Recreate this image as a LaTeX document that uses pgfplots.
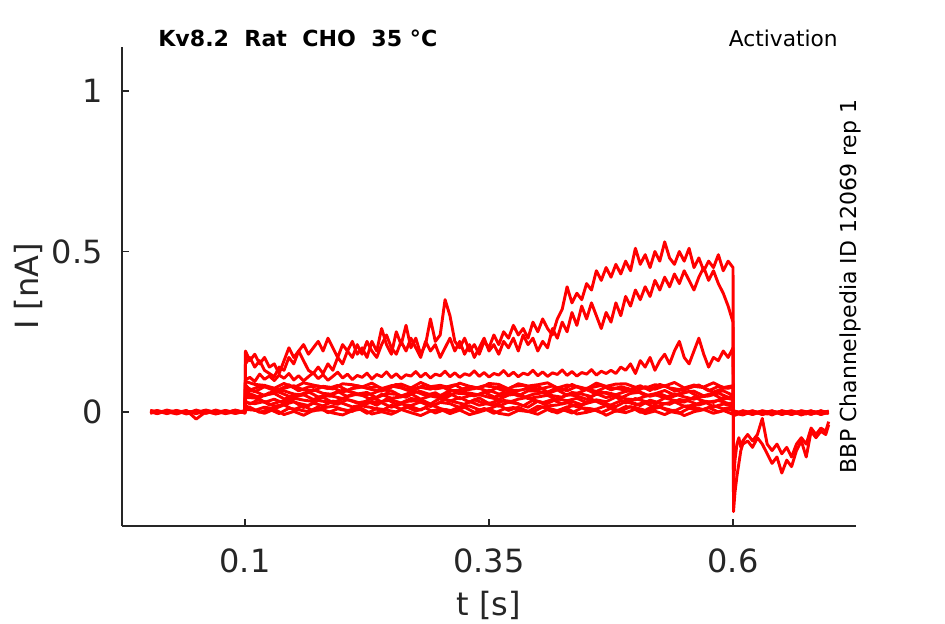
\documentclass[border=0pt]{standalone}
\usepackage{pgfplots}
\usepackage{pgfplotstable}
\pgfplotsset{compat=1.18}
\usepackage{fontspec}
\setmainfont{DejaVu Sans}
\definecolor{axgray}{HTML}{262626}

\pgfplotstableread{
t A B C
0.100 0 0 0
0.1005 0.19 0.15 0.100
0.105 0.16 0.17 0.108
0.110 0.18 0.14 0.095
0.115 0.15 0.16 0.118
0.120 0.17 0.13 0.102
0.125 0.14 0.12 0.112
0.130 0.15 0.11 0.098
0.135 0.12 0.14 0.115
0.140 0.16 0.13 0.105
0.145 0.20 0.17 0.120
0.150 0.17 0.15 0.100
0.155 0.19 0.19 0.113
0.160 0.21 0.16 0.097
0.165 0.18 0.13 0.110
0.170 0.20 0.12 0.122
0.175 0.22 0.14 0.104
0.180 0.19 0.12 0.116
0.185 0.23 0.15 0.099
0.190 0.20 0.13 0.111
0.195 0.17 0.17 0.124
0.200 0.21 0.15 0.106
0.205 0.19 0.19 0.118
0.210 0.22 0.17 0.101
0.215 0.18 0.21 0.114
0.220 0.20 0.18 0.108
0.225 0.17 0.22 0.121
0.230 0.22 0.19 0.103
0.235 0.19 0.17 0.117
0.240 0.26 0.21 0.110
0.245 0.21 0.24 0.125
0.250 0.18 0.20 0.107
0.255 0.25 0.18 0.119
0.260 0.21 0.22 0.104
0.265 0.27 0.19 0.116
0.270 0.20 0.23 0.112
0.275 0.23 0.20 0.126
0.280 0.18 0.17 0.109
0.285 0.21 0.22 0.121
0.290 0.29 0.19 0.106
0.295 0.22 0.21 0.118
0.300 0.24 0.17 0.113
0.305 0.35 0.20 0.127
0.310 0.30 0.23 0.110
0.315 0.22 0.19 0.122
0.320 0.20 0.22 0.108
0.325 0.23 0.18 0.119
0.330 0.19 0.21 0.114
0.335 0.21 0.17 0.128
0.340 0.18 0.20 0.111
0.345 0.22 0.23 0.123
0.350 0.20 0.19 0.109
0.355 0.24 0.21 0.120
0.360 0.21 0.18 0.115
0.365 0.25 0.22 0.129
0.370 0.23 0.20 0.112
0.375 0.27 0.23 0.124
0.380 0.24 0.19 0.110
0.385 0.26 0.24 0.121
0.390 0.23 0.21 0.116
0.395 0.28 0.23 0.130
0.400 0.25 0.19 0.113
0.405 0.29 0.22 0.125
0.410 0.26 0.20 0.111
0.415 0.24 0.26 0.122
0.420 0.29 0.23 0.117
0.425 0.32 0.28 0.131
0.430 0.39 0.25 0.114
0.435 0.34 0.31 0.126
0.440 0.37 0.27 0.112
0.445 0.35 0.33 0.123
0.450 0.40 0.29 0.118
0.455 0.38 0.34 0.132
0.460 0.44 0.30 0.115
0.465 0.41 0.26 0.127
0.470 0.45 0.31 0.120
0.475 0.42 0.28 0.13
0.480 0.46 0.34 0.12
0.485 0.43 0.30 0.14
0.490 0.47 0.36 0.13
0.495 0.44 0.33 0.15
0.500 0.51 0.38 0.12
0.505 0.46 0.35 0.16
0.510 0.49 0.39 0.14
0.515 0.45 0.36 0.17
0.520 0.50 0.41 0.13
0.525 0.47 0.38 0.16
0.530 0.53 0.42 0.18
0.535 0.48 0.39 0.15
0.540 0.46 0.43 0.19
0.545 0.50 0.40 0.22
0.550 0.47 0.44 0.17
0.555 0.51 0.41 0.15
0.560 0.45 0.38 0.19
0.565 0.48 0.42 0.23
0.570 0.44 0.45 0.18
0.575 0.47 0.41 0.14
0.580 0.45 0.44 0.17
0.585 0.49 0.40 0.16
0.590 0.44 0.37 0.19
0.595 0.47 0.33 0.17
0.600 0.45 0.28 0.20
0.6005 -0.31 -0.22 -0.004
0.602 -0.25 -0.15 0.002
0.604 -0.20 -0.10 -0.006
0.606 -0.16 -0.08 0.001
0.608 -0.12 -0.11 -0.003
0.610 -0.10 -0.09 0.003
0.615 -0.09 -0.07 -0.005
0.620 -0.11 -0.09 0.002
0.625 -0.08 -0.07 -0.004
0.630 -0.10 -0.02 0.001
0.635 -0.13 -0.10 -0.006
0.640 -0.16 -0.12 0.002
0.645 -0.14 -0.10 -0.003
0.650 -0.19 -0.13 0.003
0.655 -0.15 -0.11 -0.005
0.660 -0.17 -0.14 0.001
0.665 -0.12 -0.10 -0.004
0.670 -0.09 -0.08 0.002
0.675 -0.14 -0.10 -0.006
0.680 -0.06 -0.05 0.001
0.685 -0.08 -0.07 -0.003
0.690 -0.06 -0.05 0.003
0.695 -0.07 -0.06 -0.004
0.698 -0.04 -0.03 0.000
}\mainT

\pgfplotstableread{
t b1 b2 b3 b4 b5 b6 b7 b8
0.003 0.002 -0.003 0.004 -0.001 0.003 -0.004 0.001 0.005
0.01 -0.004 0.003 -0.002 0.005 -0.003 0.002 -0.005 0.001
0.02 0.003 -0.005 0.001 -0.003 0.006 -0.001 0.004 -0.002
0.03 -0.002 0.004 -0.006 0.002 -0.001 0.005 -0.003 0.003
0.04 0.005 -0.001 0.003 -0.004 0.002 -0.006 0.002 -0.004
0.05 -0.022 0.002 -0.003 0.004 -0.005 0.003 -0.001 0.006
0.06 0.001 -0.004 0.005 -0.002 0.004 -0.002 0.006 -0.003
0.07 -0.005 0.006 -0.001 0.003 -0.006 0.004 -0.002 0.002
0.08 0.004 -0.002 0.002 -0.005 0.001 -0.003 0.005 -0.001
0.09 -0.001 0.005 -0.004 0.001 -0.002 0.006 -0.004 0.004
0.1 0.003 -0.003 0.002 -0.002 0.004 -0.001 0.002 -0.003
0.1005 0.008 0.020 0.030 0.045 0.055 0.068 0.080 0.095
0.11 0.006 0.005 0.026 0.044 0.045 0.065 0.063 0.086
0.12 -0.004 0.015 0.033 0.030 0.053 0.051 0.079 0.083
0.13 0.009 0.010 0.018 0.040 0.058 0.061 0.067 0.074
0.14 -0.008 0.022 0.023 0.027 0.041 0.066 0.074 0.089
0.15 0.002 0.007 0.032 0.043 0.046 0.056 0.082 0.076
0.16 -0.010 0.020 0.014 0.037 0.054 0.053 0.069 0.091
0.17 0.005 0.003 0.028 0.033 0.039 0.070 0.066 0.084
0.18 0.007 0.013 0.019 0.046 0.051 0.058 0.080 0.077
0.19 -0.003 0.018 0.034 0.029 0.049 0.055 0.076 0.072
0.20 -0.009 0.008 0.027 0.041 0.042 0.068 0.062 0.088
0.21 0.004 0.002 0.016 0.035 0.056 0.062 0.073 0.085
0.22 0.010 0.019 0.022 0.026 0.052 0.052 0.078 0.078
0.23 -0.006 0.014 0.031 0.045 0.038 0.057 0.070 0.090
0.24 0.001 0.004 0.029 0.032 0.055 0.069 0.065 0.073
0.25 -0.007 0.021 0.015 0.038 0.043 0.066 0.081 0.082
0.26 0.008 0.009 0.025 0.028 0.047 0.050 0.075 0.087
0.27 -0.002 0.017 0.020 0.042 0.057 0.061 0.064 0.075
0.28 -0.011 0.006 0.032 0.039 0.040 0.064 0.077 0.092
0.29 0.003 0.023 0.017 0.025 0.050 0.054 0.071 0.079
0.30 0.009 0.011 0.030 0.043 0.044 0.051 0.082 0.083
0.31 -0.005 0.003 0.026 0.034 0.058 0.067 0.066 0.076
0.32 0.006 0.016 0.014 0.045 0.041 0.063 0.068 0.090
0.33 -0.008 0.019 0.033 0.031 0.051 0.059 0.080 0.080
0.34 0.000 0.007 0.021 0.044 0.054 0.053 0.074 0.073
0.35 0.010 0.010 0.028 0.026 0.046 0.068 0.063 0.089
0.36 -0.004 0.022 0.018 0.037 0.039 0.056 0.079 0.086
0.37 -0.009 0.005 0.031 0.030 0.053 0.062 0.069 0.072
0.38 0.005 0.015 0.025 0.040 0.056 0.050 0.067 0.088
0.39 0.002 0.001 0.015 0.046 0.042 0.066 0.073 0.081
0.40 -0.007 0.018 0.034 0.033 0.047 0.065 0.081 0.085
0.41 0.008 0.013 0.019 0.027 0.052 0.057 0.062 0.091
0.42 -0.003 0.004 0.022 0.041 0.038 0.069 0.076 0.075
0.43 0.011 0.016 0.030 0.035 0.055 0.052 0.066 0.084
0.44 -0.006 0.021 0.016 0.043 0.050 0.058 0.080 0.078
0.45 -0.001 0.006 0.027 0.029 0.040 0.070 0.072 0.072
0.46 0.007 0.009 0.035 0.038 0.057 0.055 0.064 0.090
0.47 -0.010 0.020 0.020 0.032 0.045 0.061 0.078 0.080
0.48 0.004 0.002 0.017 0.047 0.053 0.054 0.074 0.087
0.49 -0.002 0.017 0.033 0.028 0.041 0.064 0.068 0.088
0.50 0.009 0.014 0.023 0.042 0.038 0.068 0.063 0.077
0.51 -0.005 0.005 0.029 0.033 0.049 0.051 0.079 0.074
0.52 0.003 0.022 0.014 0.027 0.054 0.057 0.071 0.085
0.53 -0.008 0.011 0.026 0.044 0.044 0.067 0.082 0.081
0.54 0.006 0.003 0.032 0.036 0.057 0.053 0.066 0.092
0.55 -0.011 0.018 0.018 0.031 0.047 0.062 0.069 0.075
0.56 0.001 0.015 0.021 0.046 0.040 0.065 0.080 0.084
0.57 0.008 0.007 0.034 0.034 0.051 0.050 0.076 0.078
0.58 -0.004 0.020 0.016 0.030 0.055 0.060 0.062 0.091
0.59 0.005 0.010 0.025 0.045 0.039 0.066 0.074 0.076
0.60 -0.007 0.016 0.020 0.039 0.050 0.052 0.077 0.082
0.6005 -0.006 0.002 -0.010 0.004 -0.003 -0.012 0.001 -0.008
0.61 0.002 -0.007 0.003 -0.004 -0.009 0.001 -0.005 0.004
0.62 -0.008 0.001 -0.005 0.003 0.002 -0.006 0.004 -0.003
0.63 0.003 -0.004 0.002 -0.008 -0.002 0.004 -0.007 0.001
0.64 -0.005 0.004 -0.009 0.001 0.003 -0.003 0.002 -0.006
0.65 0.001 -0.008 0.004 -0.002 -0.006 0.002 -0.004 0.003
0.66 -0.007 0.002 -0.003 0.004 0.001 -0.008 0.003 -0.002
0.67 0.004 -0.003 0.001 -0.006 -0.004 0.003 -0.009 0.002
0.68 -0.002 0.003 -0.007 0.002 0.004 -0.005 0.001 -0.007
0.69 0.002 -0.006 0.003 -0.003 -0.008 0.001 -0.002 0.004
0.698 -0.004 0.001 -0.002 0.003 0.000 -0.004 0.002 -0.003
}\bandT

\pgfplotstableread{
t c1 c2 c3 c4
0.1 0 0 0 0
0.1005 0.012 0.034 0.060 0.085
0.105 0.015 0.025 0.057 0.068
0.115 -0.001 0.040 0.045 0.080
0.125 0.009 0.022 0.060 0.077
0.135 -0.005 0.032 0.062 0.070
0.145 0.012 0.037 0.049 0.085
0.155 0.007 0.027 0.053 0.066
0.165 0.001 0.020 0.063 0.078
0.175 0.016 0.036 0.047 0.081
0.185 -0.002 0.031 0.051 0.073
0.195 0.010 0.024 0.064 0.083
0.205 0.004 0.039 0.048 0.067
0.215 0.014 0.028 0.056 0.082
0.225 -0.004 0.034 0.061 0.075
0.235 0.011 0.021 0.044 0.079
0.245 0.006 0.041 0.058 0.069
0.255 0.000 0.023 0.055 0.086
0.265 0.017 0.033 0.046 0.071
0.275 0.003 0.035 0.063 0.074
0.285 0.013 0.026 0.052 0.084
0.295 -0.003 0.022 0.060 0.072
0.305 0.008 0.040 0.043 0.077
0.315 0.002 0.031 0.059 0.085
0.325 0.015 0.024 0.057 0.068
0.335 -0.001 0.038 0.050 0.073
0.345 0.011 0.027 0.062 0.082
0.355 -0.004 0.021 0.047 0.078
0.365 0.009 0.036 0.052 0.066
0.375 0.014 0.032 0.064 0.080
0.385 0.005 0.019 0.045 0.083
0.395 0.000 0.037 0.055 0.070
0.405 0.016 0.029 0.060 0.074
0.415 0.001 0.039 0.051 0.081
0.425 0.008 0.025 0.046 0.067
0.435 -0.003 0.033 0.061 0.086
0.445 0.013 0.023 0.056 0.072
0.455 0.010 0.040 0.048 0.076
0.465 -0.002 0.026 0.063 0.083
0.475 0.012 0.022 0.053 0.069
0.485 0.003 0.035 0.044 0.079
0.495 0.017 0.032 0.058 0.071
0.505 -0.001 0.020 0.062 0.082
0.515 0.007 0.037 0.049 0.067
0.525 0.015 0.028 0.057 0.086
0.535 0.002 0.024 0.045 0.075
0.545 -0.004 0.039 0.055 0.070
0.555 0.012 0.034 0.064 0.078
0.565 0.004 0.022 0.047 0.084
0.575 0.014 0.031 0.050 0.066
0.585 0.000 0.036 0.059 0.080
0.595 0.009 0.027 0.046 0.074
0.600 0.004 0.028 0.050 0.079
0.6005 -0.004 -0.002 0.001 -0.006
0.605 0.001 -0.005 -0.002 0.002
}\bandTT

\begin{document}
\begin{tikzpicture}
\useasboundingbox (-91.5pt,-73.5pt) rectangle (617.25pt,394.5pt);
\begin{axis}[
  scale only axis, width=550.5pt, height=359.25pt,
  xmin=-0.026, xmax=0.726, ymin=-0.355, ymax=1.137,
  axis x line*=bottom, axis y line*=left,
  axis line style={axgray, line width=0.9pt, -},
  tick align=inside, major tick length=5pt,
  tick style={axgray, line width=0.9pt},
  xtick={0.1,0.35,0.6}, xticklabels={0.1,0.35,0.6},
  ytick={0,0.5,1}, yticklabels={0,0.5,1},
  minor tick num=0,
  ticklabel style={font=\fontsize{24}{28}\selectfont, text=axgray},
  xticklabel style={anchor=north, inner sep=0pt, yshift=-16.5pt},
  yticklabel style={anchor=east, inner sep=0pt, xshift=-14.25pt},
  xlabel={t [s]}, ylabel={I [nA]},
  label style={font=\fontsize{24}{28}\selectfont, text=axgray},
  xlabel style={at={(axis description cs:0.5,-0.1858)}, anchor=base, inner sep=0pt},
  ylabel style={at={(axis description cs:-0.1144,0.5)}, anchor=base, inner sep=0pt},
  clip=false,
  trace/.style={color=red, solid, line width=2.2pt, line join=round, mark=none},
]
\addplot[trace] table[x=t,y=b1]{\bandT};
\addplot[trace] table[x=t,y=b2]{\bandT};
\addplot[trace] table[x=t,y=b3]{\bandT};
\addplot[trace] table[x=t,y=b4]{\bandT};
\addplot[trace] table[x=t,y=b5]{\bandT};
\addplot[trace] table[x=t,y=b6]{\bandT};
\addplot[trace] table[x=t,y=b7]{\bandT};
\addplot[trace] table[x=t,y=b8]{\bandT};
\addplot[trace] table[x=t,y=c1]{\bandTT};
\addplot[trace] table[x=t,y=c2]{\bandTT};
\addplot[trace] table[x=t,y=c3]{\bandTT};
\addplot[trace] table[x=t,y=c4]{\bandTT};
\addplot[trace] table[x=t,y=C]{\mainT};
\addplot[trace] table[x=t,y=B]{\mainT};
\addplot[trace] table[x=t,y=A]{\mainT};
\node[anchor=base west, inner sep=0pt, font=\fontsize{16.6}{19}\selectfont\bfseries] at (axis description cs:0.04905,1) {Kv8.2\ \ Rat\ \ CHO\ \ 35 °C};
\node[anchor=base east, inner sep=0pt, font=\fontsize{16.3}{19}\selectfont] at (axis description cs:0.97548,1) {Activation};
\node[rotate=90, anchor=base, inner sep=0pt, font=\fontsize{16.5}{19}\selectfont] at (axis description cs:1,0.5) {BBP Channelpedia ID 12069 rep 1};
\end{axis}
\end{tikzpicture}
\end{document}
